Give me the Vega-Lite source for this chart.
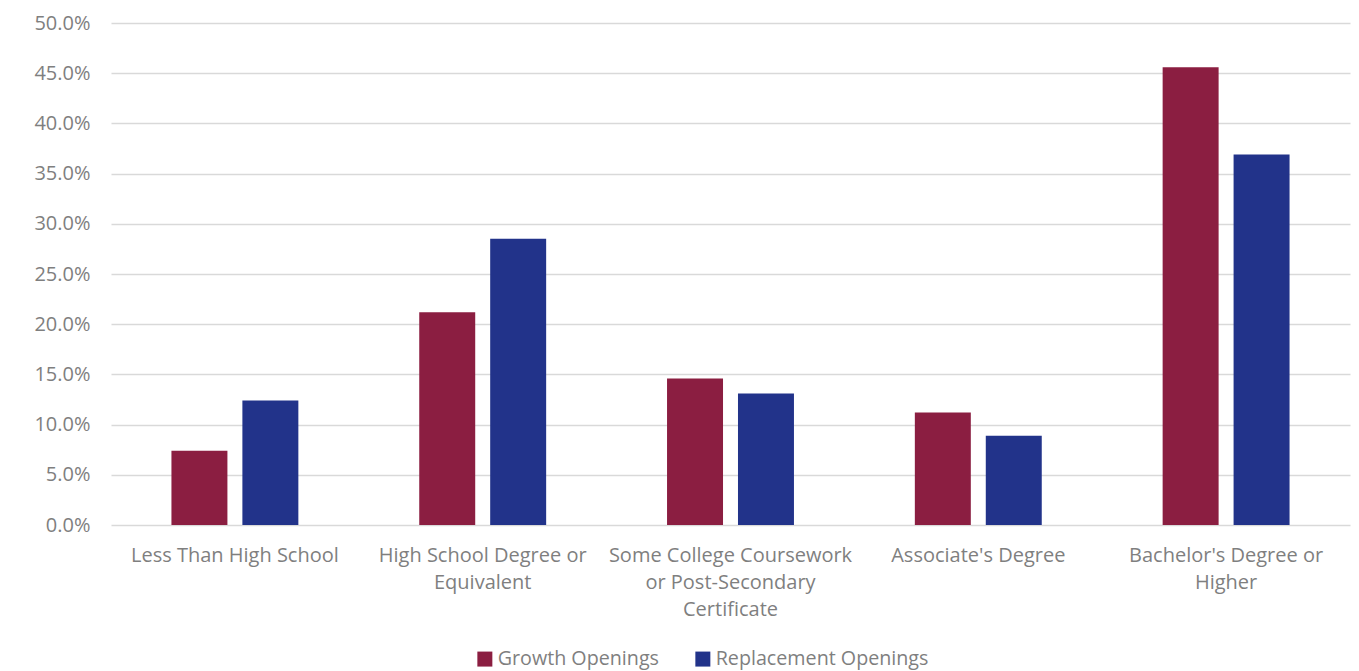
{
  "$schema": "https://vega.github.io/schema/vega-lite/v6.json",
  "autosize": "none",
  "width": 1239,
  "height": 502,
  "padding": {"left": 111, "top": 23, "right": 9, "bottom": 146},
  "background": "white",
  "config": {
    "view": {"stroke": null},
    "font": "Open Sans"
  },
  "data": {
    "values": [
      {"level": "Less Than High School", "type": "Growth Openings", "share": 0.074},
      {"level": "Less Than High School", "type": "Replacement Openings", "share": 0.124},
      {"level": "High School Degree or Equivalent", "type": "Growth Openings", "share": 0.212},
      {"level": "High School Degree or Equivalent", "type": "Replacement Openings", "share": 0.285},
      {"level": "Some College Coursework or Post-Secondary Certificate", "type": "Growth Openings", "share": 0.146},
      {"level": "Some College Coursework or Post-Secondary Certificate", "type": "Replacement Openings", "share": 0.131},
      {"level": "Associate's Degree", "type": "Growth Openings", "share": 0.112},
      {"level": "Associate's Degree", "type": "Replacement Openings", "share": 0.089},
      {"level": "Bachelor's Degree or Higher", "type": "Growth Openings", "share": 0.456},
      {"level": "Bachelor's Degree or Higher", "type": "Replacement Openings", "share": 0.369}
    ]
  },
  "mark": {"type": "bar"},
  "encoding": {
    "x": {
      "field": "level",
      "type": "nominal",
      "sort": null,
      "scale": {"paddingInner": 0, "paddingOuter": 0},
      "axis": {
        "title": null,
        "labelAngle": 0,
        "domain": false,
        "ticks": false,
        "labelFontSize": 20,
        "labelColor": "#7f7f7f",
        "labelPadding": 30,
        "labelLineHeight": 27,
        "labelBaseline": "middle",
        "labelLimit": 0,
        "labelExpr": "datum.label == 'High School Degree or Equivalent' ? ['High School Degree or', 'Equivalent'] : datum.label == 'Some College Coursework or Post-Secondary Certificate' ? ['Some College Coursework', 'or Post-Secondary', 'Certificate'] : datum.label == \"Bachelor's Degree or Higher\" ? [\"Bachelor's Degree or\", 'Higher'] : datum.label"
      }
    },
    "xOffset": {
      "field": "type",
      "type": "nominal",
      "scale": {"paddingInner": 0.211, "paddingOuter": 0.852}
    },
    "y": {
      "field": "share",
      "type": "quantitative",
      "scale": {"domain": [0, 0.5], "nice": false},
      "axis": {
        "title": null,
        "format": ".1%",
        "values": [0, 0.05, 0.1, 0.15, 0.2, 0.25, 0.3, 0.35, 0.4, 0.45, 0.5],
        "domain": false,
        "ticks": false,
        "labelFontSize": 20,
        "labelColor": "#7f7f7f",
        "labelPadding": 21,
        "gridColor": "#d9d9d9",
        "gridWidth": 1.5
      }
    },
    "color": {
      "field": "type",
      "type": "nominal",
      "scale": {"domain": ["Growth Openings", "Replacement Openings"], "range": ["#8B1E41", "#22338A"]},
      "legend": {
        "title": null,
        "orient": "none",
        "legendX": 364,
        "legendY": 626,
        "direction": "horizontal",
        "symbolType": "square",
        "symbolSize": 225,
        "symbolStrokeWidth": 0,
        "labelFontSize": 19.7,
        "labelColor": "#7f7f7f",
        "labelOffset": 3,
        "labelLimit": 0,
        "columnPadding": 34
      }
    }
  }
}
